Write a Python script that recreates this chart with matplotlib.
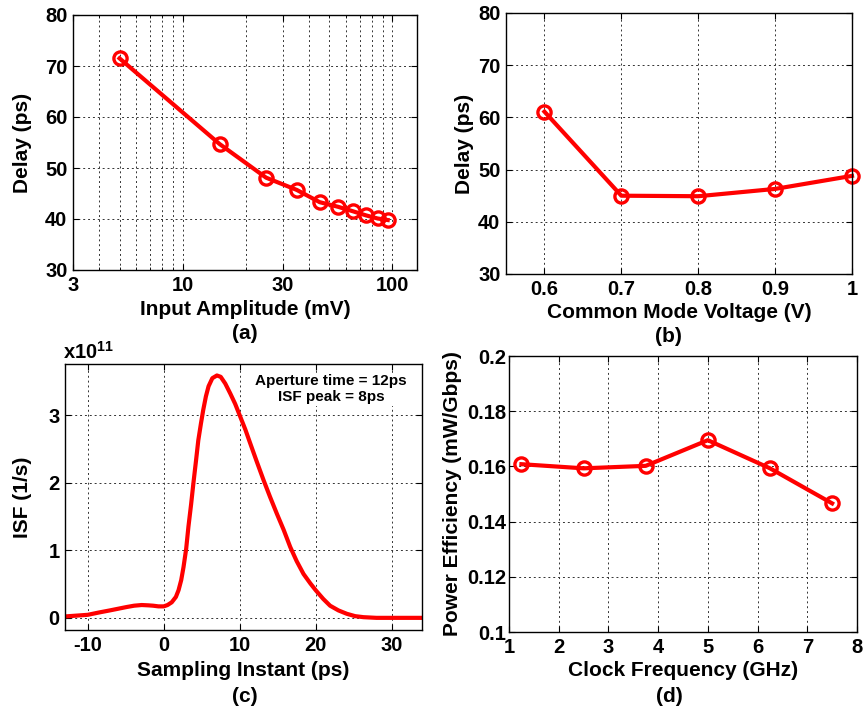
import matplotlib
matplotlib.use("Agg")
import matplotlib.pyplot as plt
from matplotlib.ticker import FixedLocator, NullFormatter

plt.rcParams['font.family'] = ['Liberation Sans', 'DejaVu Sans']
plt.rcParams['font.weight'] = 'bold'
plt.rcParams['axes.unicode_minus'] = False
plt.rcParams['mathtext.fontset'] = 'custom'
plt.rcParams['mathtext.bf'] = 'Liberation Sans:bold'
plt.rcParams['mathtext.rm'] = 'Liberation Sans:bold'
plt.rcParams['mathtext.default'] = 'bf'

# (a) delay vs input amplitude
amp_mv = [5, 15, 25, 35, 45, 55, 65, 75, 85, 95]
delay_amp = [71.5, 54.7, 48.1, 45.7, 43.3, 42.4, 41.5, 40.7, 40.1, 39.8]

# (b) delay vs common mode voltage
vcm = [0.6, 0.7, 0.8, 0.9, 1.0]
delay_vcm = [61.1, 45.0, 44.9, 46.3, 48.8]

# (c) ISF (x1e11) vs sampling instant
t_ps = [-13.1, -10, -8.5, -7.1, -6, -4.9, -3.9, -2.9, -2, -1.4, -0.7, 0, 0.5,
        1.05, 1.6, 1.95, 2.3, 2.6, 2.95, 3.25, 3.6, 3.9, 4.25, 4.55, 4.9, 5.2,
        5.55, 5.9, 6.4, 7.0, 7.5, 8.1, 8.77, 9.4, 10.0, 10.74, 11.4, 12.26,
        13.14, 14.0, 14.9, 15.8, 16.65, 17.5, 18.4, 19.3, 20.0, 21.0, 21.9,
        23.0, 24.1, 25.2, 26.3, 28, 30, 34]
isf = [0.02, 0.045, 0.08, 0.11, 0.135, 0.16, 0.18, 0.19, 0.185, 0.18, 0.17,
       0.17, 0.19, 0.23, 0.31, 0.41, 0.56, 0.75, 1.02, 1.35, 1.68, 1.99, 2.33,
       2.63, 2.88, 3.08, 3.28, 3.43, 3.55, 3.59, 3.57, 3.47, 3.32, 3.17, 3.0,
       2.79, 2.58, 2.31, 2.04, 1.79, 1.54, 1.30, 1.05, 0.84, 0.65, 0.51, 0.41,
       0.28, 0.18, 0.11, 0.06, 0.025, 0.01, 0.0, 0.0, 0.0]

# (d) power efficiency vs clock frequency
clk_ghz = [1.25, 2.5, 3.75, 5.0, 6.25, 7.5]
eff = [0.1608, 0.1593, 0.1602, 0.1695, 0.1593, 0.1466]

W, H = 863, 710
fig = plt.figure(figsize=(W / 100, H / 100), dpi=100)


def box(l, t, r, b):
    return [l / W, 1 - b / H, (r - l) / W, (b - t) / H]


ax_a = fig.add_axes(box(73, 15, 417, 270))
ax_b = fig.add_axes(box(506, 13, 852, 274))
ax_c = fig.add_axes(box(65, 364, 422, 630))
ax_d = fig.add_axes(box(509, 356, 857, 632))

red = '#ff0000'
line_kw = dict(color=red, lw=3, marker='o', ms=9.5, mfc='none', mew=2.4, clip_on=False)
grid_kw = dict(color='#333333', ls=(0, (2, 3)), lw=0.7)
lab_fs = 15
tick_fs = 14.5

for ax in (ax_a, ax_b, ax_c, ax_d):
    ax.tick_params(direction='in', top=True, right=True, labelsize=tick_fs,
                   length=4, width=0.8, pad=4)
    for s in ax.spines.values():
        s.set_linewidth(1.0)
    ax.set_axisbelow(True)

# (a)
ax_a.plot(amp_mv, delay_amp, **line_kw)
ax_a.set_xscale('log')
ax_a.set_xlim(3, 131)
ax_a.set_ylim(30, 80)
ax_a.xaxis.set_major_locator(FixedLocator([3, 10, 30, 100]))
ax_a.set_xticklabels(['3', '10', '30', '100'])
ax_a.xaxis.set_minor_locator(FixedLocator([4, 5, 6, 7, 8, 9, 20, 40, 50, 60, 70, 80, 90]))
ax_a.xaxis.set_minor_formatter(NullFormatter())
ax_a.tick_params(which='minor', direction='in', top=True, length=2)
ax_a.set_yticks([30, 40, 50, 60, 70, 80])
ax_a.grid(True, which='both', **grid_kw)
ax_a.set_xlabel('Input Amplitude (mV)', fontsize=lab_fs, fontweight='bold')
ax_a.set_ylabel('Delay (ps)', fontsize=lab_fs, fontweight='bold')

# (b)
ax_b.plot(vcm, delay_vcm, **line_kw)
ax_b.set_xlim(0.55, 1.0)
ax_b.set_ylim(30, 80)
ax_b.set_xticks([0.6, 0.7, 0.8, 0.9, 1.0])
ax_b.set_xticklabels(['0.6', '0.7', '0.8', '0.9', '1'])
ax_b.set_yticks([30, 40, 50, 60, 70, 80])
ax_b.grid(True, **grid_kw)
ax_b.set_xlabel('Common Mode Voltage (V)', fontsize=lab_fs, fontweight='bold')
ax_b.set_ylabel('Delay (ps)', fontsize=lab_fs, fontweight='bold')

# (c)
ax_c.plot(t_ps, isf, color=red, lw=3)
ax_c.set_xlim(-13, 34)
ax_c.set_ylim(-0.18, 3.76)
ax_c.set_xticks([-10, 0, 10, 20, 30])
ax_c.set_yticks([0, 1, 2, 3])
ax_c.grid(True, **grid_kw)
ax_c.set_xlabel('Sampling Instant (ps)', fontsize=lab_fs, fontweight='bold')
ax_c.set_ylabel('ISF (1/s)', fontsize=lab_fs, fontweight='bold')
ax_c.text(-0.005, 1.005, r'x10$^{11}$', transform=ax_c.transAxes, fontsize=14.5,
          ha='left', va='bottom')
ax_c.text(0.745, 0.905, 'Aperture time = 12ps\nISF peak = 8ps', transform=ax_c.transAxes,
          fontsize=11, ha='center', va='center', linespacing=1.2,
          bbox=dict(facecolor='white', edgecolor='none', pad=1))

# (d)
ax_d.plot(clk_ghz, eff, **line_kw)
ax_d.set_xlim(1, 8)
ax_d.set_ylim(0.1, 0.2)
ax_d.set_xticks([1, 2, 3, 4, 5, 6, 7, 8])
ax_d.set_yticks([0.1, 0.12, 0.14, 0.16, 0.18, 0.2])
ax_d.set_yticklabels(['0.1', '0.12', '0.14', '0.16', '0.18', '0.2'])
ax_d.tick_params(axis='y', pad=2)
ax_d.grid(True, **grid_kw)
ax_d.set_xlabel('Clock Frequency (GHz)', fontsize=lab_fs, fontweight='bold')
ax_d.set_ylabel('Power Efficiency (mW/Gbps)', fontsize=lab_fs, fontweight='bold')


# label positions (figure pixels)
def place(ax, xlab_y, ylab_x):
    l, b, w, h = ax.get_position().bounds
    xl = ax.xaxis.label
    xl.set_va('center')
    ax.xaxis.set_label_coords(0.5, ((1 - xlab_y / H) - b) / h)
    yl = ax.yaxis.label
    yl.set_va('center')
    ax.yaxis.set_label_coords((ylab_x / W - l) / w, 0.5)


place(ax_a, 310, 23)
place(ax_b, 312, 464)
place(ax_c, 670, 23)
place(ax_d, 670, 452)

for txt, x, y in [('(a)', 245, 333), ('(b)', 668, 336), ('(c)', 245, 697), ('(d)', 669, 697)]:
    fig.text(x / W, 1 - y / H, txt, fontsize=lab_fs, fontweight='bold', ha='center', va='center')

fig.savefig('out.png', dpi=100)
